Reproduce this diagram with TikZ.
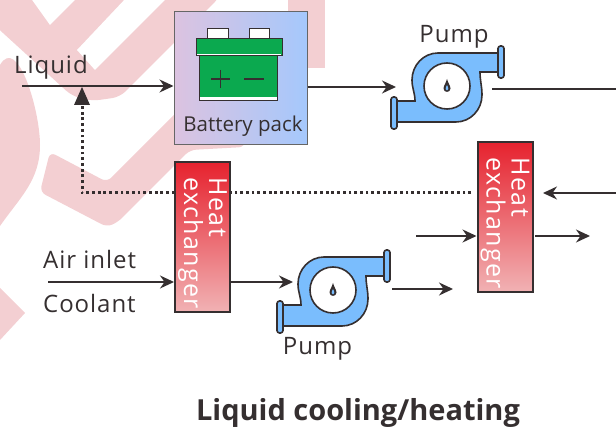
\documentclass[tikz,border=0pt]{standalone}
\usepackage{fontspec}
\setmainfont{Open Sans}
\usetikzlibrary{arrows.meta}
\usetikzlibrary{calc}
\definecolor{inkgray}{HTML}{352F30}
\definecolor{markpink}{HTML}{F3CFD2}
\definecolor{pumpblue}{HTML}{7ABDFD}
\definecolor{battgreen}{HTML}{0BA94F}
\definecolor{hxred}{HTML}{E6222E}
\definecolor{hxpink}{HTML}{F1B2B4}
\definecolor{battlilac}{HTML}{DCC3E0}
\definecolor{battblue}{HTML}{A5C8FC}
\tikzset{
    pump/.pic={
        \draw [fill=pumpblue, draw=inkgray, line width=1.6]
            (51,-33) -- (-9,-33) to [out=180, in=90] (-35,-6)
            to [out=270, in=90] (-32,15) -- (-50,15) -- (-50,36) -- (9,36)
            to [out=0, in=270] (35,9) to [out=90, in=270] (33,-14) -- (51,-14) -- cycle;
        \draw [fill=pumpblue, draw=inkgray, line width=1.6, rounded corners=2.5]
            (51,-40) rectangle (57,-8);
        \draw [fill=pumpblue, draw=inkgray, line width=1.6, rounded corners=2.5]
            (-56,11) rectangle (-50,43);
        \draw [fill=white, draw=inkgray, line width=1.6] (0,0) circle (23);
        \fill [inkgray] (0,-7) .. controls (-1,-3) and (-3.5,0) .. (-3.5,2.5)
            .. controls (-3.5,7) and (3.5,7) .. (3.5,2.5) .. controls (3.5,0) and (1,-3) .. (0,-7);
        \fill [pumpblue] (0,-1) .. controls (-1,1) and (-1.3,2) .. (-1.3,3)
            .. controls (-1.3,5) and (1.3,5) .. (1.3,3) .. controls (1.3,2) and (1,1) .. (0,-1);
    },
}
\begin{document}
\begin{tikzpicture}[
    x=1pt, y=-1pt,
    flow/.style={draw=inkgray, line width=1.5, -{Stealth[length=14, width=13]}},
    plainflow/.style={draw=inkgray, line width=1.5},
    return/.style={draw=inkgray, line width=3, dash pattern=on 2.8 off 2.9},
    label/.style={text=inkgray, anchor=base, inner sep=0,
        font=\fontsize{24}{26}\selectfont\addfontfeatures{LetterSpace=4}},
    hxbox/.style={rectangle, draw=inkgray, line width=2, rotate=-90, top color=hxred,
        bottom color=hxpink, text=white, inner sep=0, align=left,
        text width=148, minimum width=150, minimum height=55,
        font=\fontsize{25}{25}\selectfont\addfontfeatures{LetterSpace=5}},
    battbox/.style={rectangle, draw=black!60, line width=1, left color=battlilac,
        right color=battblue, minimum size=133, inner sep=0},
    ]

    \useasboundingbox (0,0) rectangle (616,427);

    \fill [markpink, rounded corners=8] (-20,-20) -- (-20,12) -- (72,96) -- (92,101) -- (120,97) -- (220,-3) -- (220,-20) -- cycle;
    \fill [white] (30,-3) -- (50,25) -- (78,-3) -- cycle;
    \fill [white] (77,50) -- (95,70) -- (168,-3) -- (127,-3) -- cycle;
    \fill [markpink, rounded corners=6] (50,152) -- (107,182) -- (245,44) -- (245,147) -- (190,150) -- (118,222) -- (107,227) -- (40,192) -- cycle;
    \fill [markpink] (288,-3) -- (325,-3) -- (325,68) -- (288,68) -- cycle;
    \fill [markpink] (0,65) to [out=60, in=90] (40,145) to [out=270, in=55] (0,226) -- cycle;
    \fill [markpink] (0,288) -- (25,313) -- (0,340) -- cycle;

    \node (battery) [battbox] at (240.5,78.5) {};
    \fill [white, draw=inkgray, line width=1] (207,29) rectangle (228,39);
    \fill [white, draw=inkgray, line width=1] (249,29) rectangle (269,39);
    \fill [battgreen, draw=inkgray, line width=1] (199,56) rectangle (277,101);
    \fill [white] (199.5,97) rectangle (276.5,100.5);
    \fill [battgreen, draw=inkgray, line width=1] (196,39) rectangle (282,56);
    \draw [white, line width=1] (197,54.5) -- (281,54.5);
    \draw [inkgray, line width=1.5] (211,79) -- (230,79) (220.5,70) -- (220.5,88) (244,79) -- (264,79);
    \node (batterytxt) [label, font=\fontsize{20.5}{22}\selectfont] at (243,132) {Battery pack};

    \pic at (447,86) {pump};
    \pic at (333,290) {pump};
    \node (pump1txt) [label] at (454,43) {Pump};
    \node (pump2txt) [label] at (317.5,355) {Pump};

    \coordinate (liquidin) at (22,86);
    \coordinate (pump1in) at (396,87);
    \coordinate (pump1out) at (492,89);
    \coordinate (rightedge) at (616,89);
    \coordinate (airin) at (48,282);
    \coordinate (pump2in) at (293,282);
    \coordinate (pump2out) at (392,289);
    \coordinate (pump2end) at (453,289);
    \coordinate (hx2in) at (416,236);
    \coordinate (hx2out) at (535,236);
    \coordinate (hx2end) at (590,236);
    \coordinate (backin) at (616,193);
    \coordinate (backend) at (543,193);
    \coordinate (returnend) at (471,193);
    \coordinate (returncorner) at (82,193);
    \coordinate (returntip) at (82,87);

    \draw [flow] (liquidin) -- (battery.west |- liquidin);
    \draw [flow] (battery.east |- pump1in) -- (pump1in);
    \draw [plainflow] (pump1out) -- (rightedge);
    \draw [return] (returnend) -- (returncorner) -- ($(returntip)+(0,17)$);
    \fill [inkgray] (returntip) -- (90,105) -- (74,105) -- cycle;

    \node (hx1) [hxbox] at (202.5,237) {\hspace*{15pt}Heat\\\hspace*{15pt}exchanger};
    \node (hx2) [hxbox] at (505,217) {\hspace*{15pt}Heat\\\hspace*{15pt}exchanger};

    \draw [flow] (airin) -- (airin -| hx1.south);
    \draw [flow] (pump2in -| hx1.north) -- (pump2in);
    \draw [flow] (pump2out) -- (pump2end);
    \draw [flow] (hx2in) -- (hx2in -| hx2.south);
    \draw [flow] (hx2out) -- (hx2end);
    \draw [flow] (backin) -- (backend);

    \node (liquidtxt) [label, anchor=base west] at (14,74) {Liquid};
    \node (airtxt) [label, anchor=base west] at (43,269) {Air inlet};
    \node (coolanttxt) [label, anchor=base west] at (43,313) {Coolant};
    \node (title) [text=inkgray, anchor=base, inner sep=0, font=\fontsize{29}{32}\selectfont\bfseries] at (358,421) {Liquid cooling/heating};
\end{tikzpicture}
\end{document}
